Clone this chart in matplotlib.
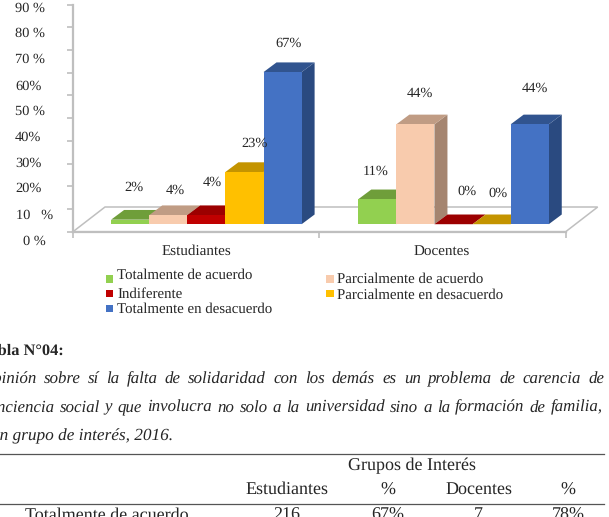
import matplotlib
matplotlib.use("Agg")
import matplotlib.pyplot as plt
from matplotlib.patches import Polygon

plt.rcParams['font.family'] = ['Liberation Serif', 'DejaVu Serif']
plt.rcParams['text.hinting'] = 'no_hinting'

FIG_W, FIG_H = 609, 517
TEXT = "#262626"
GRID = "#bfbfbf"

groups = ["Estudiantes", "Docentes"]
categories = ["Totalmente de acuerdo", "Parcialmente de acuerdo", "Indiferente",
              "Parcialmente en desacuerdo", "Totalmente en desacuerdo"]
estudiantes = [2, 4, 4, 23, 67]
docentes = [11, 44, 0, 0, 44]
y_labels = ["90 %", "80 %", "70 %", "60%", "50 %", "40%", "30%", "20%", "10   %", "0 %"]

# front, top and side colour of each category
front_colors = ["#92D050", "#F8CBAD", "#C00000", "#FFC000", "#4472C4"]
top_colors = ["#6F9E3A", "#C09C84", "#9C0000", "#C49400", "#31548F"]
side_colors = ["#5F8A32", "#A58570", "#860000", "#A87F00", "#2A4A80"]

table_header = ["Estudiantes", "%", "Docentes", "%"]
table_row = ["Totalmente de acuerdo", "216", "67%", "7", "78%"]

title_lines = [
    "Opinión sobre sí la falta de solidaridad con los demás es un problema de carencia de",
    "conciencia social y que involucra no solo a la universidad sino a la formación de familia,",
]
title_last = "según grupo de interés, 2016."

# 3d look of the chart, in axis units
UNIT_PX = 38.1          # one bar wide
PCT_PX = 2.27           # one percent high
DEPTH_X = 13 / UNIT_PX
DEPTH_Y = 9.7 / PCT_PX
BASE = 3.3              # bars stand slightly above the axis line
GROUP_X = [1.0, 7.487]

fig = plt.figure(figsize=(FIG_W / 100, FIG_H / 100), dpi=100, facecolor="white")

# chart axes: x in bar widths, y in percent
left, right, y0, y100 = 73, 603, 231.7, 4.7
ax = fig.add_axes([left / FIG_W, 1 - y0 / FIG_H, (right - left) / FIG_W, (y0 - y100) / FIG_H])
ax.set_xlim(0, (right - left) / UNIT_PX)
ax.set_ylim(0, 100)
ax.patch.set_alpha(0)
for s in ["top", "right"]:
    ax.spines[s].set_visible(False)
for s in ["left", "bottom"]:
    ax.spines[s].set_color(GRID)
    ax.spines[s].set_linewidth(1.6)
floor_end = 492.7 / UNIT_PX
ax.spines["bottom"].set_bounds(0, floor_end)
ax.set_yticks(range(0, 101, 10))
ax.set_xticks([0, floor_end / 2, floor_end])
ax.tick_params(colors=GRID, length=4, width=1.2, labelleft=False, labelbottom=False)

# floor of the chart
dx_floor, dy_floor = 32 / UNIT_PX, 24.7 / PCT_PX
ax.add_patch(Polygon([(0, 0), (floor_end, 0), (floor_end + dx_floor, dy_floor), (dx_floor, dy_floor)],
                     closed=True, facecolor="white", edgecolor=GRID, linewidth=1.1, zorder=1))


def draw_bar(x, value, i, z):
    top = BASE + value
    r = x + 1
    ax.add_patch(Polygon([(r, BASE), (r + DEPTH_X, BASE + DEPTH_Y), (r + DEPTH_X, top + DEPTH_Y), (r, top)],
                         closed=True, facecolor=side_colors[i], edgecolor="none", zorder=z))
    ax.add_patch(Polygon([(x, top), (r, top), (r + DEPTH_X, top + DEPTH_Y), (x + DEPTH_X, top + DEPTH_Y)],
                         closed=True, facecolor=top_colors[i], edgecolor="none", zorder=z))
    if value > 0:
        ax.bar(x, value, width=1, bottom=BASE, align="edge", color=front_colors[i], zorder=z)


z = 2
for gx, values in zip(GROUP_X, [estudiantes, docentes]):
    for i, v in enumerate(values):
        draw_bar(gx + i, v, i, z)
        z += 1

# overlay in page pixels for all the text
page = fig.add_axes([0, 0, 1, 1])
page.set_xlim(0, FIG_W)
page.set_ylim(FIG_H, 0)
page.axis("off")
page.patch.set_alpha(0)


def put(x, y, s, size=10.4, ha="center", **kw):
    return page.text(x, y, s, fontsize=size, ha=ha, va="center", color=TEXT, **kw)


# y axis labels sit in their own text boxes, a little off the ticks
label_ys = [8, 33, 59, 86, 111, 137, 163, 188, 215, 241]
label_xs = [15, 15, 15, 15, 15, 15, 15, 15, 16, 23]
for x, y, s in zip(label_xs, label_ys, y_labels):
    put(x, y, s, ha="left")

# value labels
value_pos = [(134, 187), (175, 190), (212, 182), (255, 143), (289, 43),
             (376, 171), (420, 93), (467, 191), (498, 193), (535, 88)]
for (x, y), v in zip(value_pos, estudiantes + docentes):
    put(x, y, f"{v}%")

put(196, 251, groups[0], size=10.9)
put(442, 251, groups[1], size=10.9)

# legend, laid out by hand in two columns
legend_pos = [(105.7, 278.7, 117.3, 275.7), (326, 278.7, 337.3, 279.3), (105.7, 293.3, 117.3, 294.3),
              (326, 293.3, 337.3, 295), (105.7, 308.3, 117.3, 309.7)]
for (mx, my, tx, ty), name, col in zip(legend_pos, categories, front_colors):
    page.add_patch(plt.Rectangle((mx, my - 3.8), 7.6, 7.6, facecolor=col, edgecolor="none"))
    put(tx, ty, name, size=10.72, ha="left")

put(64, 351, "Tabla N°04:", size=11.8, ha="right", fontweight="bold")


def justified(words_line, x_left, x_right, y):
    # spread the words of one line between two x positions
    words = words_line.split()
    renderer = fig.canvas.get_renderer()
    inv = page.transData.inverted()
    items, widths = [], []
    for w in words:
        t = put(0, y, w, size=12.2, ha="left", style="italic")
        bb = t.get_window_extent(renderer)
        widths.append(inv.transform((bb.x1, 0))[0] - inv.transform((bb.x0, 0))[0])
        items.append(t)
    gap = (x_right - x_left - sum(widths)) / (len(words) - 1)
    x = x_left
    for t, w in zip(items, widths):
        t.set_x(x)
        x += w + gap


justified(title_lines[0], -19, 604, 379)
justified(title_lines[1], -19, 603, 407.3)
put(173, 436, title_last, size=12.4, ha="right", style="italic")

# table at the foot of the page
page.plot([0, 604], [454.3, 454.3], color="#555555", lw=0.9)
page.plot([0, 604], [504.3, 504.3], color="#555555", lw=0.9)
put(411.5, 466, "Grupos de Interés", size=13)
col_x = [286.7, 388, 478.7, 568]
for x, s in zip(col_x, table_header):
    put(x, 490, s, size=13)
put(107, 515, table_row[0], size=13)
for x, s in zip(col_x, table_row[1:]):
    put(x, 515, s, size=13)

fig.savefig("out.png", dpi=100, facecolor="white")
